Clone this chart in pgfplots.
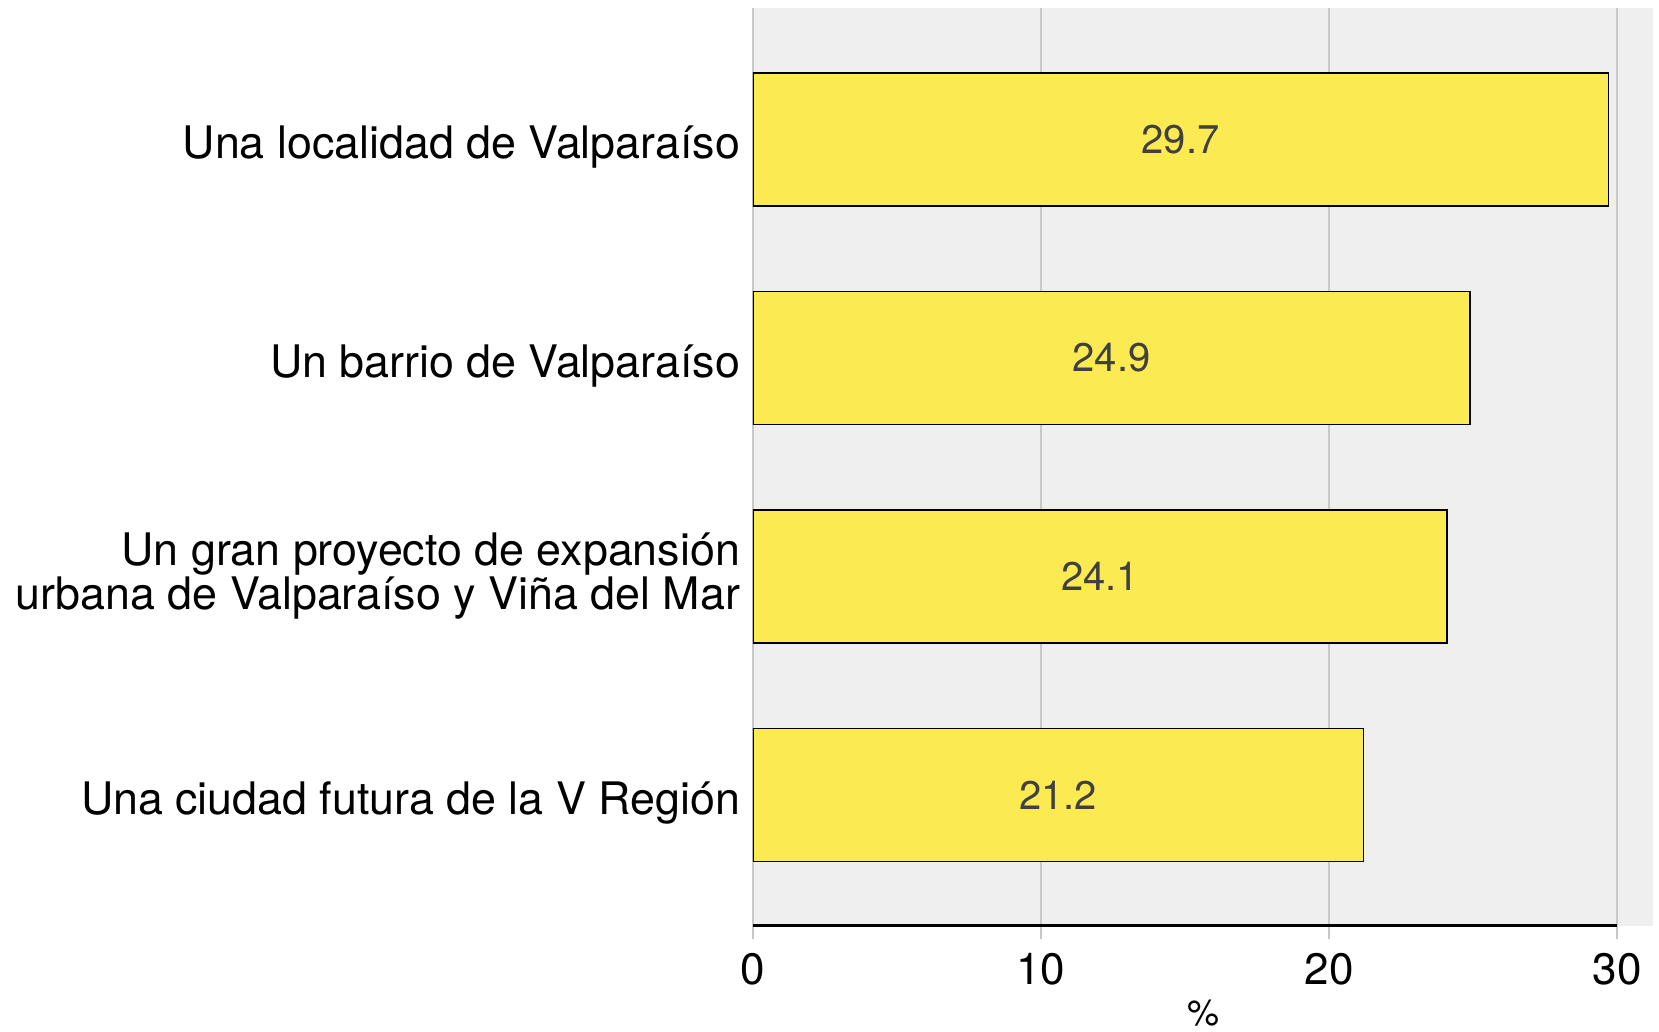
\documentclass[border=0pt]{standalone}
\usepackage{pgfplots}
\pgfplotsset{compat=1.18}
\usepackage{pgfplotstable}
\usepackage{fontspec}
\setmainfont{TeX Gyre Heros}
\definecolor{bgc}{RGB}{239,239,239}
\definecolor{gridc}{RGB}{200,200,200}
\definecolor{barc}{RGB}{252,234,82}
\definecolor{valc}{RGB}{64,64,64}
\pgfplotstableread{
y v
0 21.2
1 24.1
2 24.9
3 29.7
}\datatab
\begin{document}
\begin{tikzpicture}
\useasboundingbox (-188.25pt,-26.3pt) rectangle (226.5pt,231.5pt);
\begin{axis}[
  at={(0,0)}, anchor=south west,
  scale only axis, width=225pt, height=229.4pt,
  xmin=0, xmax=31.25, ymin=-0.6, ymax=3.6,
  /pgf/number format/assume math mode=true,
  axis background/.style={fill=bgc},
  axis line style={draw=none},
  xtick={0,10,20,30},
  xmajorgrids, major grid style={gridc, line width=0.5pt},
  xtick pos=bottom, xtick align=outside, major tick length=3.3pt,
  x tick style={gridc, line width=0.5pt},
  ytick={0,2,3},
  yticklabels={{Una ciudad futura de la V Región},{Un barrio de Valparaíso},{Una localidad de Valparaíso}},
  extra y ticks={1},
  extra y tick labels={{Un gran proyecto de expansión\\urbana de Valparaíso y Viña del Mar}},
  extra y tick style={yticklabel style={yshift=1.9pt}},
  ytick style={draw=none},
  yticklabel style={align=right, xshift=0.3pt, yshift=-1.9pt, font=\fontsize{11.2}{11}\selectfont},
  xticklabel style={font=\fontsize{11}{13}\selectfont, black},
  xlabel={\%},
  xlabel style={at={(axis description cs:0.5,0)}, anchor=center, yshift=-21.8pt, font=\fontsize{9}{10}\selectfont},
]
\addplot[xbar, bar width=33.25pt, fill=barc, draw=black, line width=0.4pt] table[x=v, y=y] {\datatab};
\addplot[draw=none, mark=none,
  nodes near coords, point meta=explicit,
  every node near coord/.append style={anchor=center, valc, font=\fontsize{10}{12}\selectfont, /pgf/number format/fixed, /pgf/number format/fixed zerofill, /pgf/number format/precision=1}]
  table[x expr=\thisrow{v}/2, y=y, meta=v] {\datatab};
\draw[black, line width=0.8pt] (axis cs:0,-0.6) -- (axis cs:30,-0.6);
\end{axis}
\end{tikzpicture}
\end{document}
